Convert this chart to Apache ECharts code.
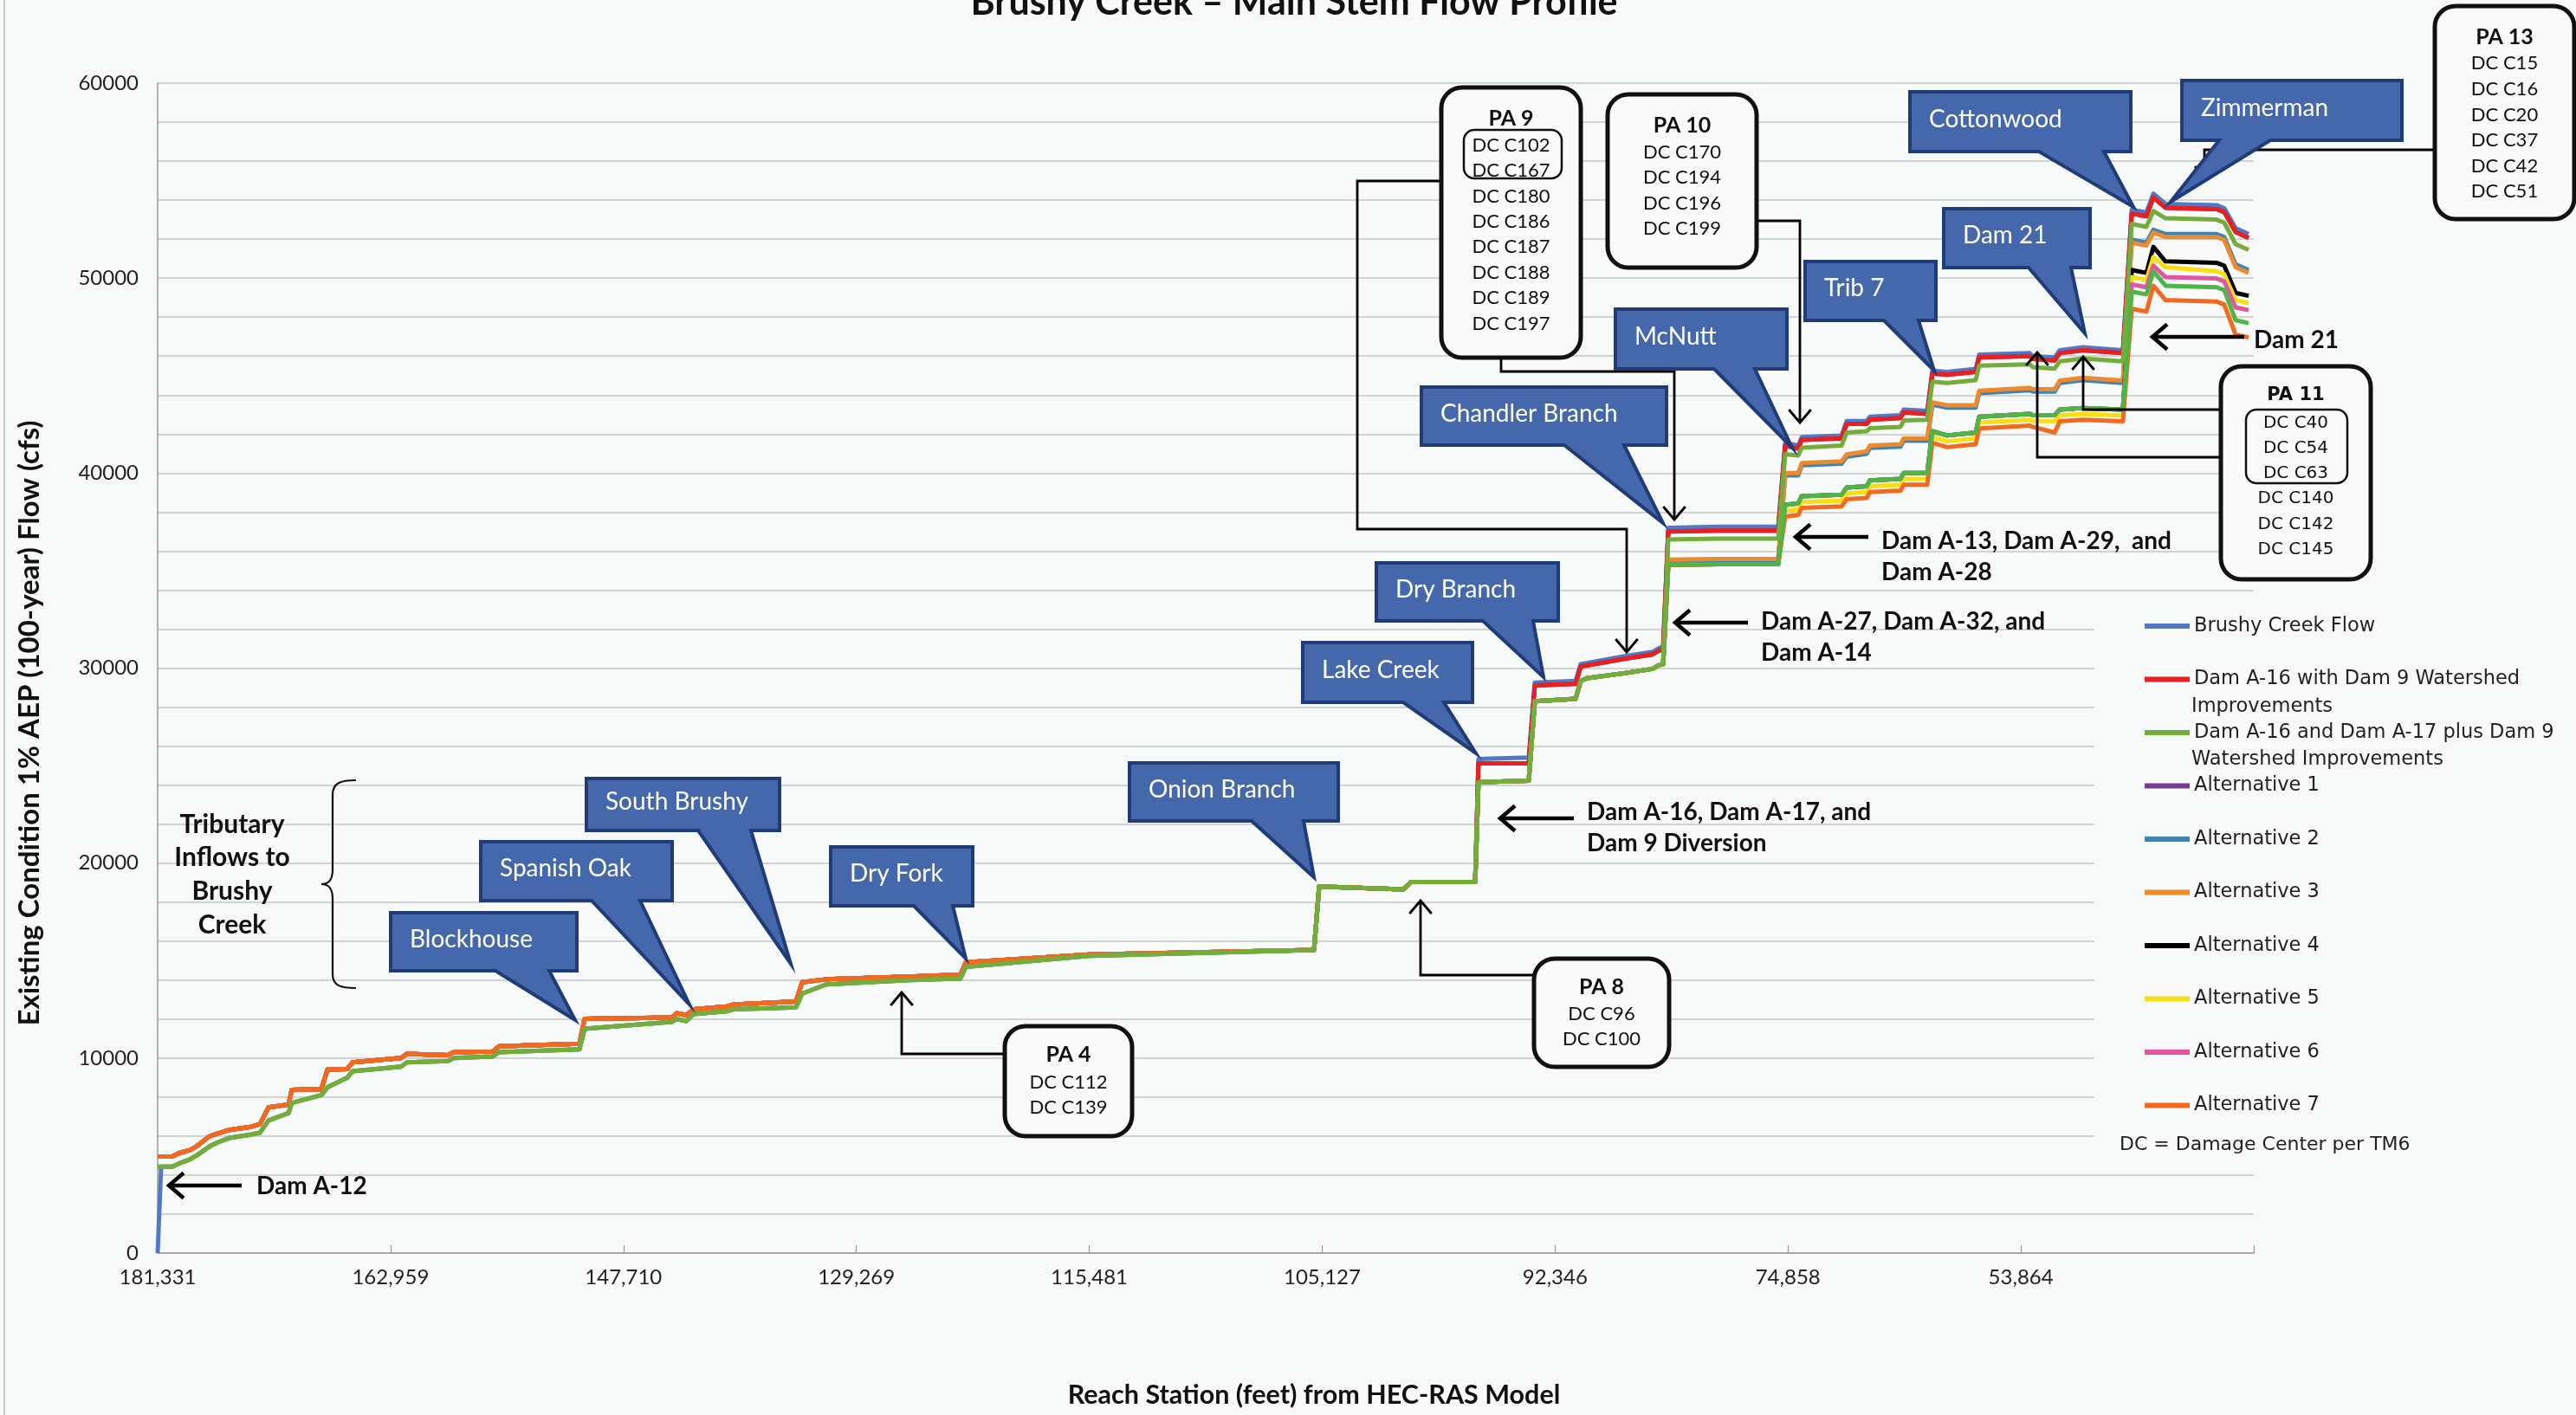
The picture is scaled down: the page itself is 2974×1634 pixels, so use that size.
<!DOCTYPE html>
<html><head><meta charset="utf-8">
<script src="https://cdn.jsdelivr.net/npm/echarts@6/dist/echarts.min.js"></script>
<style>html,body{margin:0;padding:0;background:#f8f9f9}#c{width:2974px;height:1634px}</style>
</head><body><div id="c"></div><script>
// ---------------- DATA ----------------
const stationLabels = ['181,331','162,959','147,710','129,269','115,481','105,127','92,346','74,858','53,864',''];
// position of each cross-section along the (category-spaced) station axis, in tick units
const stationPos = [0,0.015,0.063,0.093,0.138,0.167,0.223,0.253,0.309,0.394,
 0.439,0.476,0.562,0.576,0.703,0.729,0.814,0.837,1.045,1.071,
 1.246,1.272,1.439,1.465,1.811,1.833,2.209,2.228,2.269,2.302,
 2.443,2.473,2.741,2.767,2.871,3.228,3.447,3.470,4.002,4.965,
 4.987,5.348,5.381,5.657,5.671,5.887,5.913,6.088,6.110,6.136,
 6.304,6.419,6.445,6.464,6.486,6.702,6.958,6.988,7.044,7.059,
 7.230,7.252,7.338,7.352,7.483,7.497,7.598,7.620,7.683,7.806,
 7.821,8.037,8.052,8.145,8.167,8.267,8.438,8.476,8.539,8.569,
 8.621,8.840,8.873,8.922,8.978];

const brushyCreekFlow = [0,4430,4430,4600,4800,5000,5470,5650,5910,6060,
 6170,6800,7180,7700,8100,8500,8990,9330,9560,9780,
 9850,10000,10080,10300,10450,11500,11860,12000,11900,12260,
 12400,12500,12600,13300,13780,14000,14080,14680,15240,15540,
 18800,18650,19030,19030,25340,25410,29260,29340,30200,30260,
 30620,30830,31020,31100,37190,37250,37250,41560,41410,41850,
 41930,42670,42670,42890,42970,43260,43190,45260,45190,45340,
 46080,46150,46000,45930,46300,46450,46300,53510,53370,54330,
 53810,53740,53590,52560,52260];

const damA16Dam9 = [4950,4950,4950,5130,5280,5470,5990,6110,6320,6460,
 6610,7470,7620,8370,8410,9410,9440,9780,10000,10220,
 10150,10300,10340,10600,10740,12010,12080,12300,12200,12500,
 12650,12750,12900,13890,14040,14180,14280,14910,15310,15540,
 18800,18650,19030,19030,25120,25120,29110,29190,30080,30130,
 30490,30700,30890,30950,37010,37050,37050,41410,41260,41700,
 41780,42520,42520,42740,42820,43110,43040,45110,45040,45190,
 45930,46000,45850,45780,46150,46300,46150,53310,53170,54130,
 53610,53540,53390,52360,52060];

const damA16A17Dam9 = [4430,4430,4430,4600,4800,5000,5470,5650,5910,6060,
 6170,6800,7180,7700,8100,8500,8990,9330,9560,9780,
 9850,10000,10080,10300,10450,11500,11860,12000,11900,12260,
 12400,12500,12600,13300,13780,14000,14080,14680,15240,15540,
 18800,18650,19030,19030,24150,24230,28300,28420,29340,29480,
 29750,29960,30150,30200,36600,36640,36640,40970,40900,41300,
 41410,42080,42150,42300,42370,42700,42740,44690,44620,44770,
 45510,45580,45430,45360,45730,45880,45730,52780,52630,53440,
 53070,53000,52850,51740,51450];

const alternative1 = [4950,4950,4950,5130,5280,5470,5990,6110,6320,6460,
 6610,7470,7620,8370,8410,9410,9440,9780,10000,10220,
 10150,10300,10340,10600,10740,12010,12080,12300,12200,12500,
 12650,12750,12900,13890,14040,14180,14280,14910,15310,15540,
 18800,18650,19030,19030,25120,25120,29110,29190,30080,30130,
 30490,30700,30890,30950,37010,37050,37050,41410,41260,41700,
 41780,42520,42520,42740,42820,43110,43040,45110,45040,45190,
 45930,46000,45850,45780,46150,46300,46150,53310,53170,54130,
 53610,53540,53390,52360,52060];

const alternative2 = [4950,4950,4950,5130,5280,5470,5990,6110,6320,6460,
 6610,7470,7620,8370,8410,9410,9440,9780,10000,10220,
 10150,10300,10340,10600,10740,12010,12080,12300,12200,12500,
 12650,12750,12900,13890,14040,14180,14280,14910,15310,15540,
 18800,18650,19030,19030,24150,24230,28300,28420,29340,29480,
 29750,29960,30150,30200,35500,35540,35540,39880,39880,40400,
 40480,40840,40990,41290,41360,41660,41660,43510,43360,43360,
 44100,44250,44180,44180,44620,44770,44620,51970,51820,52480,
 52260,52260,52110,50710,50420];

const alternative3 = [4950,4950,4950,5130,5280,5470,5990,6110,6320,6460,
 6610,7470,7620,8370,8410,9410,9440,9780,10000,10220,
 10150,10300,10340,10600,10740,12010,12080,12300,12200,12500,
 12650,12750,12900,13890,14040,14180,14280,14910,15310,15540,
 18800,18650,19030,19030,24150,24230,28300,28420,29340,29480,
 29750,29960,30150,30200,35560,35600,35600,40000,40000,40520,
 40600,40960,41110,41410,41480,41780,41780,43630,43480,43480,
 44220,44370,44300,44300,44740,44890,44740,51820,51670,52330,
 52110,52110,51960,50560,50270];

const alternative4 = [4950,4950,4950,5130,5280,5470,5990,6110,6320,6460,
 6610,7470,7620,8370,8410,9410,9440,9780,10000,10220,
 10150,10300,10340,10600,10740,12010,12080,12300,12200,12500,
 12650,12750,12900,13890,14040,14180,14280,14910,15310,15540,
 18800,18650,19030,19030,24150,24230,28300,28420,29340,29480,
 29750,29960,30150,30200,35300,35330,35330,38370,38450,38820,
 38890,39260,39330,39630,39700,40000,40000,42150,41930,42080,
 42890,43040,42970,42970,43260,43340,43260,50420,50270,51600,
 50860,50790,50640,49240,49090];

const alternative5 = [4950,4950,4950,5130,5280,5470,5990,6110,6320,6460,
 6610,7470,7620,8370,8410,9410,9440,9780,10000,10220,
 10150,10300,10340,10600,10740,12010,12080,12300,12200,12500,
 12650,12750,12900,13890,14040,14180,14280,14910,15310,15540,
 18800,18650,19030,19030,24150,24230,28300,28420,29340,29480,
 29750,29960,30150,30200,35300,35330,35330,38070,38150,38520,
 38590,38960,39030,39330,39400,39700,39700,41850,41630,41780,
 42590,42740,42670,42670,42960,43040,42960,50050,49900,51080,
 50560,50350,50200,48870,48720];

const alternative6 = [4950,4950,4950,5130,5280,5470,5990,6110,6320,6460,
 6610,7470,7620,8370,8410,9410,9440,9780,10000,10220,
 10150,10300,10340,10600,10740,12010,12080,12300,12200,12500,
 12650,12750,12900,13890,14040,14180,14280,14910,15310,15540,
 18800,18650,19030,19030,24150,24230,28300,28420,29340,29480,
 29750,29960,30150,30200,35300,35330,35330,38370,38450,38820,
 38890,39260,39330,39630,39700,40000,40000,42150,41930,42080,
 42890,43040,42970,42970,43260,43340,43260,49680,49530,50640,
 50050,49980,49830,48500,48360];

const alternative7 = [4950,4950,4950,5130,5280,5470,5990,6110,6320,6460,
 6610,7470,7620,8370,8410,9410,9440,9780,10000,10220,
 10150,10300,10340,10600,10740,12010,12080,12300,12200,12500,
 12650,12750,12900,13890,14040,14180,14280,14910,15310,15540,
 18800,18650,19030,19030,24150,24230,28300,28420,29340,29480,
 29750,29960,30150,30200,35300,35330,35330,37770,37850,38220,
 38290,38660,38730,39030,39100,39400,39400,41550,41330,41480,
 42290,42440,42370,42080,42660,42740,42660,48430,48280,49610,
 48870,48800,48650,47100,46960];

// second green trace visible in the plot (not in the legend)
const lowerGreenTrace = [4430,4430,4430,4600,4800,5000,5470,5650,5910,6060,
 6170,6800,7180,7700,8100,8500,8990,9330,9560,9780,
 9850,10000,10080,10300,10450,11500,11860,12000,11900,12260,
 12400,12500,12600,13300,13780,14000,14080,14680,15240,15540,
 18800,18650,19030,19030,24150,24230,28300,28420,29340,29480,
 29750,29960,30150,30200,35300,35330,35330,38370,38450,38820,
 38890,39260,39330,39630,39700,40000,40000,42150,41930,42080,
 42890,43040,42970,42970,43260,43340,43260,49310,49170,50350,
 49610,49530,49390,47840,47690];

const legendNames = ['Brushy Creek Flow','Dam A-16 with Dam 9 Watershed Improvements',
 'Dam A-16 and Dam A-17 plus Dam 9 Watershed Improvements','Alternative 1','Alternative 2',
 'Alternative 3','Alternative 4','Alternative 5','Alternative 6','Alternative 7'];

// ---------------- SERIES ----------------
const seriesDefs = [
 ['Brushy Creek Flow', brushyCreekFlow, '#5179c4'],
 ['Alternative 1', alternative1, '#7a3a98'],
 ['Dam A-16 with Dam 9 Watershed Improvements', damA16Dam9, '#ea1f1f'],
 ['Alternative 2', alternative2, '#3a85b6'],
 ['Alternative 3', alternative3, '#ee8a2e'],
 ['Alternative 4', alternative4, '#000000'],
 ['Alternative 5', alternative5, '#f8de12'],
 ['Alternative 6', alternative6, '#e0579f'],
 ['Alternative 7', alternative7, '#f3691f'],
 ['Green trace', lowerGreenTrace, '#4eb547'],
 ['Dam A-16 and Dam A-17 plus Dam 9 Watershed Improvements', damA16A17Dam9, '#74ad3b']
];
const series = seriesDefs.map(([name, vals, color]) => ({
  name, type:'line', symbol:'none', color,
  lineStyle:{width:5, color, join:'round'},
  data: vals.map((v,i)=>[stationPos[i], v])
}));

// ---------------- ANNOTATIONS ----------------
const A = [];
function rbox(x1,y1,x2,y2,r,lw,z){A.push({type:'rect',z:z||100,shape:{x:x1,y:y1,width:x2-x1,height:y2-y1,r:r},style:{fill:'#fafafa',stroke:'#111',lineWidth:lw}});}
function obox(x1,y1,x2,y2){A.push({type:'rect',z:101,shape:{x:x1,y:y1,width:x2-x1,height:y2-y1,r:12},style:{fill:null,stroke:'#111',lineWidth:2.5}});}
function txt(x,y,s,font,align,fill,z){A.push({type:'text',z:z||102,x:x,y:y,style:{text:s,font:font,fill:fill||'#111',textAlign:align||'center',textVerticalAlign:'middle'}});}
function poly(pts,lw,z){A.push({type:'polyline',z:z||99,shape:{points:pts},style:{stroke:'#000',lineWidth:lw,fill:null,lineJoin:'miter'}});}
function bez(x1,y1,c1x,c1y,c2x,c2y,x2,y2){A.push({type:'bezierCurve',z:99,shape:{x1:x1,y1:y1,cpx1:c1x,cpy1:c1y,cpx2:c2x,cpy2:c2y,x2:x2,y2:y2},style:{stroke:'#111',lineWidth:2.2,fill:null}});}
function head(tx,ty,dir,s,lw,z){
  let p;
  if(dir==='left') p=[[tx+s,ty-s*0.85],[tx,ty],[tx+s,ty+s*0.85]];
  if(dir==='up') p=[[tx-s*0.85,ty+s],[tx,ty],[tx+s*0.85,ty+s]];
  if(dir==='down') p=[[tx-s*0.85,ty-s],[tx,ty],[tx+s*0.85,ty-s]];
  poly(p,lw,z);
}
function callout(x1,y1,x2,y2,b1,b2,tx,ty,label){
  A.push({type:'polygon',z:110,shape:{points:[[x1,y1],[x2,y1],[x2,y2],[b2,y2],[tx,ty],[b1,y2],[x1,y2]]},
    style:{fill:'#4567ab',stroke:'#1f3c78',lineWidth:4,lineJoin:'miter',miterLimit:20}});
  A.push({type:'text',z:111,x:x1+22,y:(y1+y2)/2-3,style:{text:label,font:'28px Lato',fill:'#ffffff',textAlign:'left',textVerticalAlign:'middle'}});
}

// white area behind legend
A.push({type:'rect',z:1,shape:{x:2418,y:693,width:556,height:650},style:{fill:'#f8f9f9'}});
// scan edge
A.push({type:'line',z:1,shape:{x1:5,y1:0,x2:5,y2:1634},style:{stroke:'#b8b8b8',lineWidth:1.5}});

// titles
txt(1494,3,'Brushy Creek – Main Stem Flow Profile','bold 43px Lato','center','#111');
A.push({type:'text',z:102,x:34,y:835,rotation:Math.PI/2,style:{text:'Existing Condition 1% AEP (100-year) Flow (cfs)',font:'bold 33px Lato',fill:'#111',textAlign:'center',textVerticalAlign:'middle'}});
txt(1517,1611,'Reach Station (feet) from HEC-RAS Model','bold 30.5px Lato','center','#111');

// connectors (drawn below callouts)
poly([[1737,209],[1567,209],[1567,611],[1878,611],[1878,753]],2.8); head(1878,753,'down',15,2.8);
poly([[1733,413],[1733,429],[1933,429],[1933,600]],2.8); head(1933,600,'down',15,2.8);
poly([[2028,255],[2078,255],[2078,488]],2.8); head(2078,488,'down',15,2.8);
poly([[2564,528],[2352,528],[2352,407]],2.8); head(2352,407,'up',15,2.8);
poly([[2593,473],[2405,473],[2405,412]],2.8); head(2405,412,'up',15,2.8);
poly([[2811,173],[2545,173],[2545,205]],2.8); head(2545,205,'down',13,2.8);
poly([[1160,1217],[1041,1217],[1041,1146]],2.8); head(1041,1146,'up',15,2.8);
poly([[1771,1126],[1640,1126],[1640,1040]],2.8); head(1640,1040,'up',15,2.8);

// bold arrow labels
function lab(x1,x2,y,lines,tx,ty){
  poly([[x1,y],[x2,y]],4.5); head(x2,y,'left',17,4.5);
  lines.forEach((l,i)=>txt(tx,ty+i*36,l,'bold 28px Lato','left','#111'));
}
lab(279,195,1369,['Dam A-12'],296,1370);
lab(1817,1732,945,['Dam A-16, Dam A-17, and','Dam 9 Diversion'],1832,938);
lab(2018,1934,719,['Dam A-27, Dam A-32, and','Dam A-14'],2033,718);
lab(2157,2073,620,['Dam A-13, Dam A-29,  and','Dam A-28'],2172,625);
lab(2591,2485,389,['Dam 21'],2602,393);

// tributary note + brace
['Tributary','Inflows to','Brushy','Creek'].forEach((l,i)=>txt(268,952+i*38.7,l,'bold 30px Lato','center','#111'));
bez(411,901,393,901,384,904,384,918);
poly([[384,918],[384,1004]],2.2);
bez(384,1004,384,1016,380,1021,371,1021);
bez(371,1021,380,1021,384,1026,384,1038);
poly([[384,1038],[384,1125]],2.2);
bez(384,1125,384,1138,393,1141,411,1141);

// PA boxes
function paBox(x1,y1,x2,y2,title,ty,lines,ly,font,tfont){
  rbox(x1,y1,x2,y2,24,5);
  const cx=(x1+x2)/2;
  txt(cx,ty,title,tfont);
  lines.forEach((l,i)=>txt(cx,ly[i],l,font));
}
paBox(1664,101,1825,413,'PA 9',137,['DC C102','DC C167','DC C180','DC C186','DC C187','DC C188','DC C189','DC C197'],[168,197,227,256,285,315,344,374],'22px Lato','bold 25px Lato');
obox(1690,150,1803,206);
paBox(1856,109,2028,309,'PA 10',145,['DC C170','DC C194','DC C196','DC C199'],[176,205,235,264],'22px Lato','bold 25px Lato');
paBox(2564,423,2737,669,'PA 11',457,['DC C40','DC C54','DC C63','DC C140','DC C142','DC C145'],[489,518,547,576,606,635],'20px "DejaVu Sans"','bold 21px "DejaVu Sans"');
obox(2593,473,2710,558);
paBox(2811,7,2972,253,'PA 13',43,['DC C15','DC C16','DC C20','DC C37','DC C42','DC C51'],[73,103,133,162,192,221],'22px Lato','bold 25px Lato');
paBox(1160,1185,1307,1312,'PA 4',1218,['DC C112','DC C139'],[1250,1279],'22px Lato','bold 25px Lato');
paBox(1771,1107,1927,1232,'PA 8',1140,['DC C96','DC C100'],[1171,1200],'22px Lato','bold 25px Lato');

// callouts
callout(451,1054,666,1121,572,634,664,1178,'Blockhouse');
callout(555,972,776,1040,683,739,796,1160,'Spanish Oak');
callout(677,899,900,959,806,867,913,1113,'South Brushy');
callout(959,978,1123,1046,1055,1100,1115,1107,'Dry Fork');
callout(1304,881,1545,948,1445,1505,1517,1013,'Onion Branch');
callout(1504,742,1700,811,1620,1667,1704,870,'Lake Creek');
callout(1589,650,1799,717,1712,1770,1782,782,'Dry Branch');
callout(1641,447,1924,514,1806,1875,1920,604,'Chandler Branch');
callout(1865,357,2063,426,1979,2026,2069,517,'McNutt');
callout(2084,302,2235,370,2175,2215,2233,428,'Trib 7');
callout(2244,241,2413,309,2342,2391,2407,385,'Dam 21');
callout(2205,106,2460,175,2354,2429,2463,239,'Cottonwood');
callout(2519,93,2773,162,2562,2621,2506,233,'Zimmerman');

// legend continuation lines and note
txt(2530,816,'Improvements','22.5px "DejaVu Sans"','left','#222');
txt(2530,877,'Watershed Improvements','22.5px "DejaVu Sans"','left','#222');
txt(2447,1322,'DC = Damage Center per TM6','22px "DejaVu Sans"','left','#222');

const legendFirstLine = {
  'Dam A-16 with Dam 9 Watershed Improvements':'Dam A-16 with Dam 9 Watershed',
  'Dam A-16 and Dam A-17 plus Dam 9 Watershed Improvements':'Dam A-16 and Dam A-17 plus Dam 9'
};

const chart = echarts.init(document.getElementById('c'), null, {renderer:'canvas'});
chart.setOption({
  backgroundColor:'#f8f9f9',
  animation:false,
  grid:{left:182,right:372,top:96,bottom:187,containLabel:false},
  xAxis:{type:'value',min:0,max:9,interval:1,
    axisLine:{show:true,onZero:false,lineStyle:{color:'#9a9a9a',width:1.5}},
    axisTick:{show:true,inside:true,length:9,lineStyle:{color:'#9a9a9a',width:1.2}},
    splitLine:{show:false},
    axisLabel:{formatter:v=>stationLabels[Math.round(v)]||'',fontFamily:'Lato',fontSize:24,color:'#222',margin:16}},
  yAxis:{type:'value',min:0,max:60000,interval:2000,
    axisLine:{show:true,lineStyle:{color:'#9a9a9a',width:1.5}},
    axisTick:{show:false},
    splitLine:{show:true,lineStyle:{color:'#c6c6c6',width:1.5}},
    axisLabel:{formatter:v=>(v%10000===0?String(v):''),fontFamily:'Lato',fontSize:24,color:'#222',margin:22}},
  legend:{show:true,data:legendNames,orient:'vertical',left:2471,top:703,itemWidth:52,itemHeight:6,itemGap:31.5,
    icon:'rect',selectedMode:false,
    textStyle:{fontFamily:'DejaVu Sans',fontSize:22.5,color:'#222',lineHeight:30},
    formatter:n=>legendFirstLine[n]||n},
  series:series,
  graphic:{elements:A}
});
</script></body></html>
